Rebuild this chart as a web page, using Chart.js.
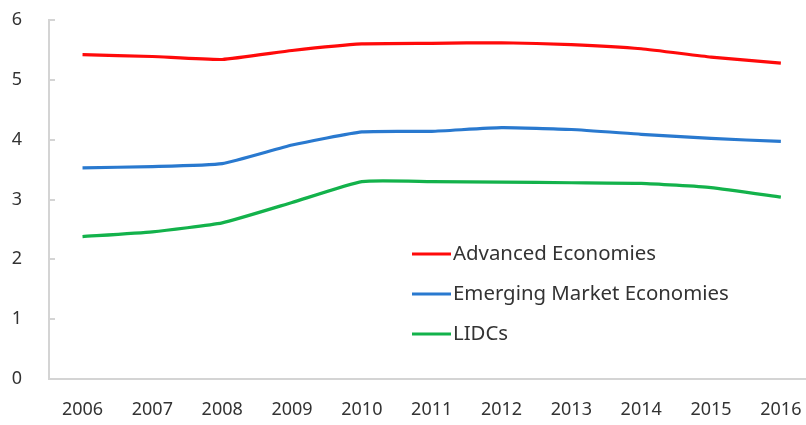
<!DOCTYPE html>
<html>
<head>
<meta charset="utf-8">
<script src="https://cdn.jsdelivr.net/npm/chart.js@4"></script>
<style>
  html, body { margin: 0; padding: 0; background: #fff; }
  #wrap { width: 806px; height: 425px; }
</style>
</head>
<body>
<div id="wrap"><canvas id="myChart"></canvas></div>
<script>
const years = [2006, 2007, 2008, 2009, 2010, 2011, 2012, 2013, 2014, 2015, 2016]
const advanced = [5.42, 5.39, 5.34, 5.49, 5.60, 5.61, 5.62, 5.59, 5.52, 5.38, 5.28]
const emerging = [3.53, 3.55, 3.60, 3.91, 4.13, 4.14, 4.20, 4.17, 4.09, 4.02, 3.97]
const lidcs = [2.38, 2.46, 2.61, 2.95, 3.30, 3.30, 3.29, 3.28, 3.27, 3.20, 3.04]
const yTicks = [0, 1, 2, 3, 4, 5, 6]

const ctx = document.getElementById('myChart')
const tickFont = { family: 'Noto Sans', size: 18 }

const toPoints = vals => vals.map((v, i) => ({ x: years[i], y: v }))

// legend drawn inside the plot, lower middle
const innerLegend = {
    id: 'innerLegend',
    afterDraw(chart) {
        const c = chart.ctx
        const x0 = 412, y0 = 254, gap = 40
        c.save()
        c.font = '20.4px "Noto Sans"'
        c.textBaseline = 'middle'
        chart.data.datasets.forEach((ds, i) => {
            const y = y0 + i * gap
            c.strokeStyle = ds.borderColor
            c.lineWidth = 3
            c.beginPath()
            c.moveTo(x0, y)
            c.lineTo(x0 + 39, y)
            c.stroke()
            c.fillStyle = '#333'
            c.fillText(ds.label, x0 + 41, y)
        })
        c.restore()
    }
}

// short tick marks pointing into the plot
const innerTicks = {
    id: 'innerTicks',
    beforeDatasetsDraw(chart) {
        const c = chart.ctx
        const y = chart.scales.y
        c.save()
        c.strokeStyle = '#d4d4d4'
        c.lineWidth = 2
        yTicks.forEach(v => {
            const py = Math.round(y.getPixelForValue(v))
            c.beginPath()
            c.moveTo(y.right, py)
            c.lineTo(y.right + 6, py)
            c.stroke()
        })
        c.restore()
    }
}

const chart = new Chart(ctx, {
    type: 'line',
    data: {
        datasets: [
            {
                label: 'Advanced Economies',
                data: toPoints(advanced),
                borderColor: '#ff0a0a',
                borderWidth: 3.2,
                pointRadius: 0,
                tension: 0.15
            },
            {
                label: 'Emerging Market Economies',
                data: toPoints(emerging),
                borderColor: '#2979cf',
                borderWidth: 3.2,
                pointRadius: 0,
                tension: 0.15
            },
            {
                label: 'LIDCs',
                data: toPoints(lidcs),
                borderColor: '#13b24b',
                borderWidth: 3.2,
                pointRadius: 0,
                tension: 0.15
            }
        ]
    },
    options: {
        responsive: true,
        maintainAspectRatio: false,
        animation: false,
        layout: { padding: { top: 20, right: 0, left: 0, bottom: 0 } },
        plugins: {
            legend: { display: false },
            tooltip: { enabled: false }
        },
        scales: {
            x: {
                type: 'linear',
                min: 2005.52,
                max: 2016.36,
                afterBuildTicks: s => { s.ticks = years.map(v => ({ value: v })) },
                afterFit: s => { s.height = 46; s.paddingRight = 0; s.paddingLeft = 0 },
                grid: { display: false },
                border: { display: true, color: '#d4d4d4', width: 2 },
                ticks: {
                    color: '#333',
                    font: tickFont,
                    padding: 12,
                    maxRotation: 0,
                    autoSkip: false,
                    callback: v => String(v)
                }
            },
            y: {
                min: 0,
                max: 6,
                afterBuildTicks: s => { s.ticks = yTicks.map(v => ({ value: v })) },
                afterFit: s => { s.width = 49; s.paddingTop = 0; s.paddingBottom = 0 },
                grid: { display: false },
                border: { display: true, color: '#d4d4d4', width: 2 },
                ticks: {
                    color: '#333',
                    font: tickFont,
                    padding: 19
                }
            }
        }
    },
    plugins: [innerTicks, innerLegend]
})
</script>
</body>
</html>
